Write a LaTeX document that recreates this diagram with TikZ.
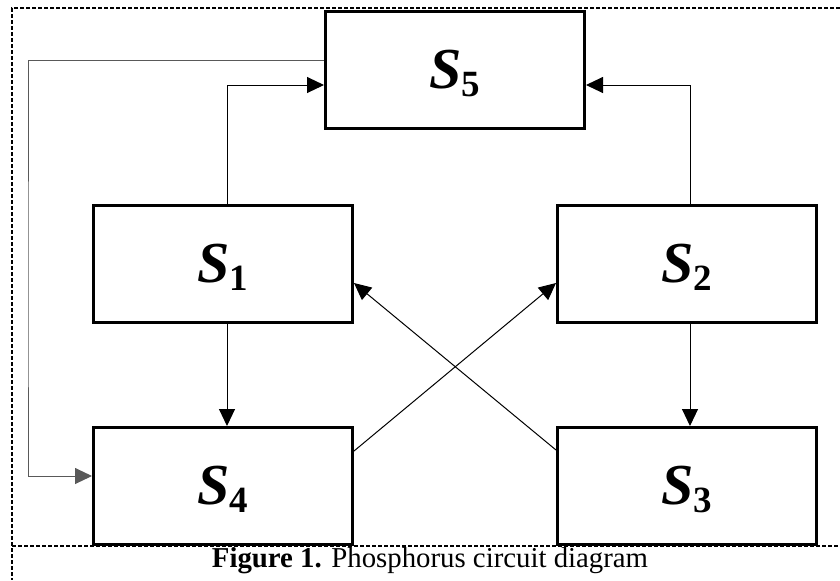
\documentclass[tikz,border=0pt]{standalone}
\usepackage{fontspec}
\setmainfont{Liberation Serif}
\usepackage{tikz}
\usetikzlibrary{arrows.meta, positioning, calc}

% state label: bold italic S with bold digit below
\newcommand{\slab}[1]{{\fontsize{29}{29}\selectfont\bfseries\itshape S}%
  \raisebox{-4pt}[0pt][0pt]{\fontsize{18.5}{18.5}\selectfont\bfseries #1}}

\begin{document}
\begin{tikzpicture}[
  x=0.5pt, y=-0.5pt,
  box/.style={rectangle, draw, line width=1.5pt, minimum width=129.5pt,
              minimum height=58.5pt, inner sep=0pt},
  arr/.style={-{Triangle[length=8.5pt, width=8pt]}, line width=0.5pt},
  loopline/.style={arr, draw=black!65},
  frame/.style={line width=1pt, dash pattern=on 2pt off 1pt},
  caption/.style={font=\fontsize{14.4}{16}\selectfont, anchor=base},
]
\useasboundingbox (0,0) rectangle (840,580);

% outer frame and caption rule
\draw[frame] (840,8) -- (12,8) -- (12,580);
\draw[frame] (12,546) -- (840,546);

\node[box] (s1) at (223,264) {\slab{1}};
\node[box, right=101pt of s1] (s2) {\slab{2}};
\node[box, below=51pt of s1] (s4) {\slab{4}};
\node[box, below=51pt of s2] (s3) {\slab{3}};
\coordinate (mid) at ($(s1.north)!0.5!(s2.north)$);
\node[box, above=37pt of mid] (s5) {\slab{5}};
\coordinate (loop) at (28,300);

\draw[arr] ([xshift=2pt]s1.north) |- ([yshift=-7.5pt]s5.west);
\draw[arr] ([xshift=1.5pt]s2.north) |- ([yshift=-7.5pt]s5.east);
\draw[loopline] ([yshift=5pt]s5.west) -| (loop) |- ([yshift=5pt]s4.west);
\draw[arr] ([xshift=2pt]s1.south) -- ([xshift=2pt]s4.north);
\draw[arr] ([xshift=1.5pt]s2.south) -- ([xshift=1.5pt]s3.north);
\draw[arr] ([yshift=17.5pt]s4.east) -- ([yshift=-9.5pt]s2.west);
\draw[arr] ([yshift=18pt]s3.west) -- ([yshift=-9.5pt]s1.east);

\node[caption] (cap) at (430,567) {\textbf{Figure 1.} Phosphorus circuit diagram};
\end{tikzpicture}
\end{document}
